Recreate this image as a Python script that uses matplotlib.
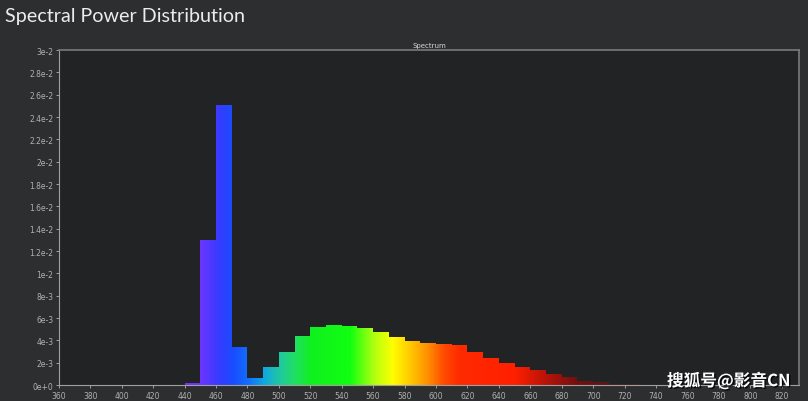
import numpy as np
import matplotlib
matplotlib.use('Agg')
import matplotlib.pyplot as plt
from matplotlib.colors import LinearSegmentedColormap
from matplotlib.path import Path
import matplotlib.patheffects as pe

# spectrum in 10 nm bins (left edges)
wl = np.arange(440, 730, 10)
power = [0.00015, 0.0130, 0.0251, 0.0034, 0.0006, 0.0016, 0.0030, 0.0044,
         0.0052, 0.0054, 0.0053, 0.0051, 0.00475, 0.0043, 0.0039, 0.0038,
         0.0037, 0.0036, 0.0030, 0.0024, 0.0020, 0.0016, 0.0013, 0.0010,
         0.0007, 0.0004, 0.0003, 0.0001, 0.00005]

xticks = np.arange(360, 821, 20)
yticks = np.arange(0, 0.0301, 0.002)

# wavelength -> colour anchors
anchors = [(440, '#7a2cff'), (450, '#6a35ff'), (460, '#3a3aff'), (470, '#1a4cff'),
           (480, '#1070ff'), (490, '#10a8e0'), (500, '#20c8a0'), (510, '#20e060'),
           (520, '#10f020'), (545, '#10ff10'), (560, '#b0ff10'), (572, '#ffff00'),
           (585, '#ffc000'), (595, '#ff8c00'), (605, '#ff4a00'), (615, '#ff2a00'),
           (650, '#ff2000'), (668, '#c01408'), (690, '#701010'), (730, '#3a2020')]
lo, hi = anchors[0][0], anchors[-1][0]
cmap = LinearSegmentedColormap.from_list(
    'spec', [((w - lo) / (hi - lo), c) for w, c in anchors])

fig = plt.figure(figsize=(8.08, 4.02), dpi=100, facecolor='#2d2e30')
ax = fig.add_axes([0.0728, 0.0398, 0.9162, 0.8332])
ax.set_facecolor('#222325')

bars = ax.bar(wl, power, width=10, align='edge', color='none', linewidth=0)
clip = Path.make_compound_path(*[b.get_path().transformed(b.get_patch_transform())
                                 for b in bars])
grad = np.linspace(0, 1, 600).reshape(1, -1)
im = ax.imshow(grad, cmap=cmap, aspect='auto', extent=(lo, hi, 0, 0.03),
               origin='lower', interpolation='bilinear', zorder=2)
im.set_clip_path(clip, ax.transData)

ax.set_xlim(360, 831)
ax.set_ylim(0, 0.03)
ax.set_xticks(xticks)
ax.set_yticks(yticks)


def efmt(v):
    if v < 1e-9:
        return '0e+0'
    e = int(np.floor(np.log10(v) + 1e-9))
    m = round(v / 10 ** e, 1)
    return '%ge%d' % (m, e)


ax.set_yticklabels([efmt(v) for v in yticks])
ax.tick_params(colors='#b0b0b0', labelsize=5.5, length=2.5, width=0.6, pad=1.5)
for s in ['left', 'bottom']:
    ax.spines[s].set_color('#a0a0a0')
    ax.spines[s].set_linewidth(0.8)
for s in ['top', 'right']:
    ax.spines[s].set_color('#7a7a7a')
    ax.spines[s].set_linewidth(1.2)

ax.set_title('Spectrum', fontsize=5, color='#d8d8d8', pad=2)
fig.text(0.006, 0.96, 'Spectral Power Distribution', fontsize=14.2, color='#ececec',
         va='center', ha='left', family='Lato')
fig.text(0.978, 0.05, '搜狐号@影音CN', fontsize=12, color='white', fontweight='bold',
         ha='right', va='center', family=['Noto Sans CJK SC', 'DejaVu Sans'],
         path_effects=[pe.withSimplePatchShadow(offset=(1, -1), shadow_rgbFace='black', alpha=0.8)])

fig.savefig('out.png', dpi=100, facecolor=fig.get_facecolor())
